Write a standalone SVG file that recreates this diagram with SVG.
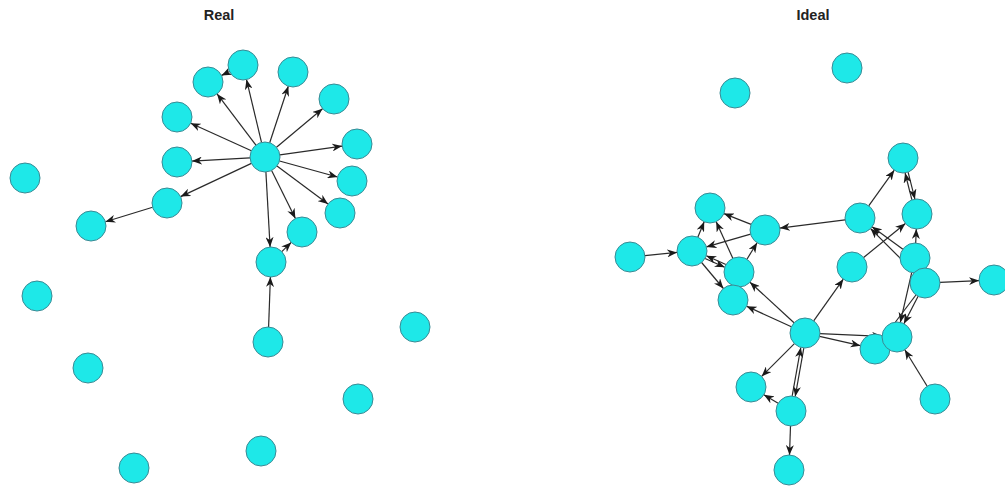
<svg xmlns="http://www.w3.org/2000/svg" width="1005" height="489" viewBox="0 0 1005 489">
<style>
.n{fill:#1ee8e8;stroke:#3a8a94;stroke-width:1}
.e{stroke:#2a2a2a;stroke-width:1.2;fill:none;marker-end:url(#ah)}
.t{font-family:"Liberation Sans",Arial,sans-serif;font-size:14.5px;font-weight:bold;fill:#222;text-anchor:middle}
</style>
<defs>
<marker id="ah" markerUnits="userSpaceOnUse" markerWidth="11" markerHeight="8" refX="10" refY="4" orient="auto">
<path d="M0,0 L10,4 L0,8 L3,4 z" fill="#1a1a1a"/>
</marker>
</defs>
<rect width="1005" height="489" fill="#fff"/>
<text class="t" x="219" y="20">Real</text>
<text class="t" x="813" y="20">Ideal</text>
<g id="edges">
<line class="e" x1="255.9" y1="145.1" x2="217.1" y2="93.9"/>
<line class="e" x1="261.5" y1="142.4" x2="246.5" y2="79.6"/>
<line class="e" x1="269.7" y1="142.8" x2="288.3" y2="86.2"/>
<line class="e" x1="276.5" y1="147.3" x2="322.5" y2="108.7"/>
<line class="e" x1="251.4" y1="150.8" x2="190.7" y2="123.2"/>
<line class="e" x1="279.9" y1="154.9" x2="342.1" y2="146.1"/>
<line class="e" x1="250.0" y1="157.9" x2="192.0" y2="161.1"/>
<line class="e" x1="279.5" y1="161.0" x2="337.5" y2="177.0"/>
<line class="e" x1="251.4" y1="163.4" x2="180.6" y2="196.6"/>
<line class="e" x1="277.0" y1="166.0" x2="328.0" y2="204.0"/>
<line class="e" x1="271.6" y1="170.5" x2="295.4" y2="218.5"/>
<line class="e" x1="265.9" y1="172.0" x2="270.1" y2="247.0"/>
<line class="e" x1="229.5" y1="71.6" x2="221.5" y2="75.4"/>
<line class="e" x1="152.6" y1="207.3" x2="105.4" y2="221.7"/>
<line class="e" x1="268.6" y1="327.0" x2="270.4" y2="277.0"/>
<line class="e" x1="281.8" y1="251.6" x2="291.2" y2="242.4"/>
<line class="e" x1="644.9" y1="255.6" x2="677.1" y2="252.4"/>
<line class="e" x1="845.1" y1="219.9" x2="779.9" y2="228.1"/>
<line class="e" x1="868.7" y1="205.8" x2="894.3" y2="170.2"/>
<line class="e" x1="908.1" y1="172.2" x2="914.9" y2="199.1"/>
<line class="e" x1="911.9" y1="199.9" x2="905.1" y2="173.0"/>
<line class="e" x1="915.7" y1="243.0" x2="916.3" y2="229.0"/>
<line class="e" x1="863.6" y1="257.5" x2="905.4" y2="223.5"/>
<line class="e" x1="902.9" y1="249.2" x2="872.1" y2="226.8"/>
<line class="e" x1="914.4" y1="272.4" x2="870.6" y2="228.6"/>
<line class="e" x1="940.0" y1="282.4" x2="979.0" y2="280.6"/>
<line class="e" x1="751.1" y1="224.4" x2="723.9" y2="213.6"/>
<line class="e" x1="697.8" y1="237.2" x2="704.2" y2="221.8"/>
<line class="e" x1="732.8" y1="258.3" x2="716.2" y2="221.7"/>
<line class="e" x1="750.6" y1="234.1" x2="706.4" y2="246.9"/>
<line class="e" x1="705.1" y1="258.5" x2="724.7" y2="267.3"/>
<line class="e" x1="725.9" y1="264.5" x2="706.3" y2="255.7"/>
<line class="e" x1="701.6" y1="262.5" x2="723.4" y2="288.5"/>
<line class="e" x1="746.9" y1="259.3" x2="757.1" y2="242.7"/>
<line class="e" x1="794.0" y1="322.8" x2="750.0" y2="282.2"/>
<line class="e" x1="791.4" y1="326.7" x2="746.6" y2="306.3"/>
<line class="e" x1="813.7" y1="320.8" x2="843.3" y2="279.2"/>
<line class="e" x1="819.6" y1="336.3" x2="860.4" y2="345.7"/>
<line class="e" x1="820.0" y1="333.7" x2="882.0" y2="336.3"/>
<line class="e" x1="911.7" y1="272.6" x2="900.3" y2="322.4"/>
<line class="e" x1="918.1" y1="296.3" x2="903.9" y2="323.7"/>
<line class="e" x1="915.9" y1="295.0" x2="884.1" y2="337.0"/>
<line class="e" x1="927.2" y1="386.2" x2="904.8" y2="349.8"/>
<line class="e" x1="794.4" y1="343.6" x2="761.6" y2="376.4"/>
<line class="e" x1="803.8" y1="348.1" x2="795.2" y2="396.5"/>
<line class="e" x1="792.2" y1="395.9" x2="800.8" y2="347.5"/>
<line class="e" x1="778.1" y1="403.3" x2="763.9" y2="394.7"/>
<line class="e" x1="790.5" y1="426.0" x2="789.5" y2="455.0"/>
</g>
<g id="L_A"><circle class="n" cx="208" cy="82" r="15"/></g>
<g id="L_B"><circle class="n" cx="243" cy="65" r="15"/></g>
<g id="L_C"><circle class="n" cx="293" cy="72" r="15"/></g>
<g id="L_D"><circle class="n" cx="334" cy="99" r="15"/></g>
<g id="L_E"><circle class="n" cx="177" cy="117" r="15"/></g>
<g id="L_F"><circle class="n" cx="357" cy="144" r="15"/></g>
<g id="L_G"><circle class="n" cx="177" cy="162" r="15"/></g>
<g id="L_H"><circle class="n" cx="265" cy="157" r="15"/></g>
<g id="L_I"><circle class="n" cx="352" cy="181" r="15"/></g>
<g id="L_J"><circle class="n" cx="25" cy="178" r="15"/></g>
<g id="L_K"><circle class="n" cx="167" cy="203" r="15"/></g>
<g id="L_L"><circle class="n" cx="340" cy="213" r="15"/></g>
<g id="L_M"><circle class="n" cx="91" cy="226" r="15"/></g>
<g id="L_N"><circle class="n" cx="302" cy="232" r="15"/></g>
<g id="L_O"><circle class="n" cx="271" cy="262" r="15"/></g>
<g id="L_P"><circle class="n" cx="37" cy="296" r="15"/></g>
<g id="L_Q"><circle class="n" cx="268" cy="342" r="15"/></g>
<g id="L_R"><circle class="n" cx="415" cy="327" r="15"/></g>
<g id="L_S"><circle class="n" cx="88" cy="368" r="15"/></g>
<g id="L_T"><circle class="n" cx="358" cy="399" r="15"/></g>
<g id="L_U"><circle class="n" cx="261" cy="451" r="15"/></g>
<g id="L_V"><circle class="n" cx="134" cy="468" r="15"/></g>
<g id="R_1"><circle class="n" cx="735" cy="93" r="15"/></g>
<g id="R_2"><circle class="n" cx="847" cy="68" r="15"/></g>
<g id="R_3"><circle class="n" cx="903" cy="158" r="15"/></g>
<g id="R_4"><circle class="n" cx="630" cy="257" r="15"/></g>
<g id="R_5"><circle class="n" cx="710" cy="208" r="15"/></g>
<g id="R_6"><circle class="n" cx="692" cy="251" r="15"/></g>
<g id="R_7"><circle class="n" cx="765" cy="230" r="15"/></g>
<g id="R_8"><circle class="n" cx="860" cy="218" r="15"/></g>
<g id="R_9"><circle class="n" cx="917" cy="214" r="15"/></g>
<g id="R_10"><circle class="n" cx="739" cy="272" r="15"/></g>
<g id="R_11"><circle class="n" cx="852" cy="267" r="15"/></g>
<g id="R_12"><circle class="n" cx="915" cy="258" r="15"/></g>
<g id="R_13"><circle class="n" cx="925" cy="283" r="15"/></g>
<g id="R_14"><circle class="n" cx="994" cy="280" r="15"/></g>
<g id="R_15"><circle class="n" cx="733" cy="300" r="15"/></g>
<g id="R_16"><circle class="n" cx="805" cy="333" r="15"/></g>
<g id="R_17"><circle class="n" cx="875" cy="349" r="15"/></g>
<g id="R_18"><circle class="n" cx="897" cy="337" r="15"/></g>
<g id="R_19"><circle class="n" cx="751" cy="387" r="15"/></g>
<g id="R_20"><circle class="n" cx="791" cy="411" r="15"/></g>
<g id="R_21"><circle class="n" cx="935" cy="399" r="15"/></g>
<g id="R_22"><circle class="n" cx="789" cy="470" r="15"/></g>
</svg>
